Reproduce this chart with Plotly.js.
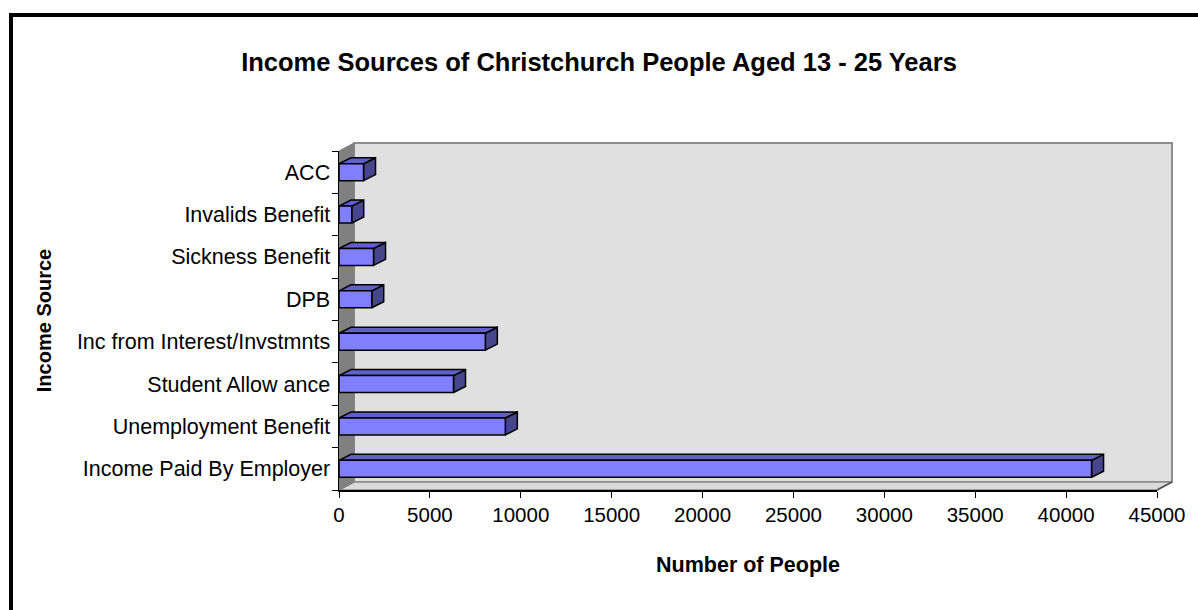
<!DOCTYPE html>
<html>
<head>
<meta charset="utf-8">
<script src="https://cdn.plot.ly/plotly-3.0.1.min.js"></script>
<style>html,body{margin:0;padding:0;background:#fff;}#chart{width:1198px;height:610px;}</style>
</head>
<body>
<div id="chart"></div>
<script>
// ---- data (bottom to top, as drawn) ----
const categories = ['Income Paid By Employer', 'Unemployment Benefit', 'Student Allow ance',
  'Inc from Interest/Invstmnts', 'DPB', 'Sickness Benefit', 'Invalids Benefit', 'ACC'];
const people = [41400, 9150, 6300, 8050, 1800, 1900, 700, 1350];
const xTickVals = [0, 5000, 10000, 15000, 20000, 25000, 30000, 35000, 40000, 45000];
const chartTitle = 'Income Sources of Christchurch People Aged 13 - 25 Years';
const xTitle = 'Number of People';
const yTitle = 'Income Source';

// ---- geometry (pixels) ----
const FIGW = 1198, FIGH = 610;
const L = 330, R = 10, T = 130, B = 110;
const W = FIGW - L - R, H = FIGH - T - B;
const FX0 = 339, FX1 = 1157, FYB = 490, FYT = 151;   // front plane frame
const XMAX = xTickVals[xTickVals.length - 1];
const pxPerX = (FX1 - FX0) / XMAX;
const pxPerY = (FYB - FYT) / categories.length;
const xv = px => (px - FX0) / pxPerX;
const yv = py => -0.5 + (FYB - py) / pxPerY;
const wallDX = 15 / pxPerX, wallDY = 8 / pxPerY;
const barDX = 12 / pxPerX, barDY = 6 / pxPerY;
const half = 0.2;
const yLo = -0.5, yHi = categories.length - 0.5;

const FONT = 'Liberation Sans, Arial, sans-serif';

// ---- walls ----
const backWall = {
  x: [wallDX, XMAX + wallDX, XMAX + wallDX, wallDX, wallDX],
  y: [yLo + wallDY, yLo + wallDY, yHi + wallDY, yHi + wallDY, yLo + wallDY],
  type: 'scatter', mode: 'lines', fill: 'toself', fillcolor: '#E0E0E0',
  line: {color: '#8C8C8C', width: 2}, xaxis: 'x', yaxis: 'y', hoverinfo: 'skip'
};
const floor = {
  x: [0, XMAX, XMAX + wallDX, wallDX, 0],
  y: [yLo, yLo, yLo + wallDY, yLo + wallDY, yLo],
  type: 'scatter', mode: 'lines', fill: 'toself', fillcolor: '#DADADA',
  line: {color: '#8C8C8C', width: 1.5}, xaxis: 'x', yaxis: 'y', hoverinfo: 'skip'
};
const sideWall = {
  x: [0, 0, wallDX, wallDX, 0],
  y: [yLo, yHi, yHi + wallDY, yLo + wallDY, yLo],
  type: 'scatter', mode: 'lines', fill: 'toself', fillcolor: '#808080',
  line: {color: '#808080', width: 1}, xaxis: 'x', yaxis: 'y', hoverinfo: 'skip'
};

// ---- bar 3D faces ----
const topX = [], topY = [], sideX = [], sideY = [];
people.forEach((v, i) => {
  topX.push(0, v, v + barDX, barDX, 0, null);
  topY.push(i + half, i + half, i + half + barDY, i + half + barDY, i + half, null);
  sideX.push(v, v, v + barDX, v + barDX, v, null);
  sideY.push(i - half, i + half, i + half + barDY, i - half + barDY, i - half, null);
});
const topFaces = {
  x: topX, y: topY, type: 'scatter', mode: 'lines', fill: 'toself', fillcolor: '#6060C8',
  line: {color: '#000', width: 1.5}, xaxis: 'x', yaxis: 'y', hoverinfo: 'skip'
};
const sideFaces = {
  x: sideX, y: sideY, type: 'scatter', mode: 'lines', fill: 'toself', fillcolor: '#46468C',
  line: {color: '#000', width: 1.5}, xaxis: 'x', yaxis: 'y', hoverinfo: 'skip'
};

// ---- front faces ----
const front = {
  type: 'bar', orientation: 'h', y: categories, x: people,
  marker: {color: '#8080FF', line: {color: '#000', width: 1.5}},
  width: 2 * half, xaxis: 'x2', yaxis: 'y2', hoverinfo: 'skip'
};

const layout = {
  width: FIGW, height: FIGH,
  margin: {l: L, r: R, t: T, b: B, pad: 0},
  paper_bgcolor: '#FFFFFF', plot_bgcolor: 'rgba(0,0,0,0)',
  showlegend: false, hovermode: false,
  font: {family: FONT, color: '#000'},
  title: {text: '<b>' + chartTitle + '</b>', font: {family: FONT, size: 25.5, color: '#000'},
    xref: 'container', x: 0.5, xanchor: 'center', yref: 'container', y: 1 - 62 / FIGH, yanchor: 'middle'},
  xaxis: {domain: [0, 1], range: [xv(L), xv(L + W)], visible: false, fixedrange: true},
  yaxis: {domain: [0, 1], range: [yv(T + H), yv(T)], visible: false, fixedrange: true},
  xaxis2: {
    domain: [(FX0 - L) / W, (FX1 - L) / W], anchor: 'y2', range: [0, XMAX],
    tickmode: 'array', tickvals: xTickVals, ticktext: xTickVals.map(String),
    ticks: 'outside', ticklen: 6, tickwidth: 1, tickcolor: '#000',
    showline: true, linecolor: '#000', linewidth: 1.5, showgrid: false, zeroline: false,
    tickfont: {family: FONT, size: 20.5, color: '#000'},
    title: {text: '<b>' + xTitle + '</b>', font: {family: FONT, size: 21.5, color: '#000'}, standoff: 32}
  },
  yaxis2: {
    domain: [(T + H - FYB) / H, (T + H - FYT) / H], anchor: 'x2', type: 'category',
    range: [yLo, yHi], tickson: 'boundaries',
    ticks: 'outside', ticklen: 6, tickwidth: 1, tickcolor: '#000', ticklabelstandoff: 3,
    showline: true, linecolor: '#000', linewidth: 1.5, showgrid: false, zeroline: false,
    tickfont: {family: FONT, size: 21.5, color: '#000'},
    title: {text: '<b>' + yTitle + '</b>', font: {family: FONT, size: 20, color: '#000'}, standoff: 20}
  },
  shapes: [{
    type: 'rect', xref: 'paper', yref: 'paper', layer: 'above',
    x0: (11 - L) / W, x1: (FIGW + 20 - L) / W,
    y0: (T + H - (FIGH + 20)) / H, y1: (T + H - 15) / H,
    line: {color: '#000', width: 4}, fillcolor: 'rgba(0,0,0,0)'
  }, {
    type: 'line', xref: 'x', yref: 'y', layer: 'above',
    x0: XMAX, y0: yLo, x1: XMAX + wallDX, y1: yLo + wallDY,
    line: {color: '#555', width: 1.5}
  }]
};

Plotly.newPlot('chart', [backWall, floor, sideWall, sideFaces, topFaces, front], layout,
  {staticPlot: true, displayModeBar: false});
</script>
</body>
</html>
